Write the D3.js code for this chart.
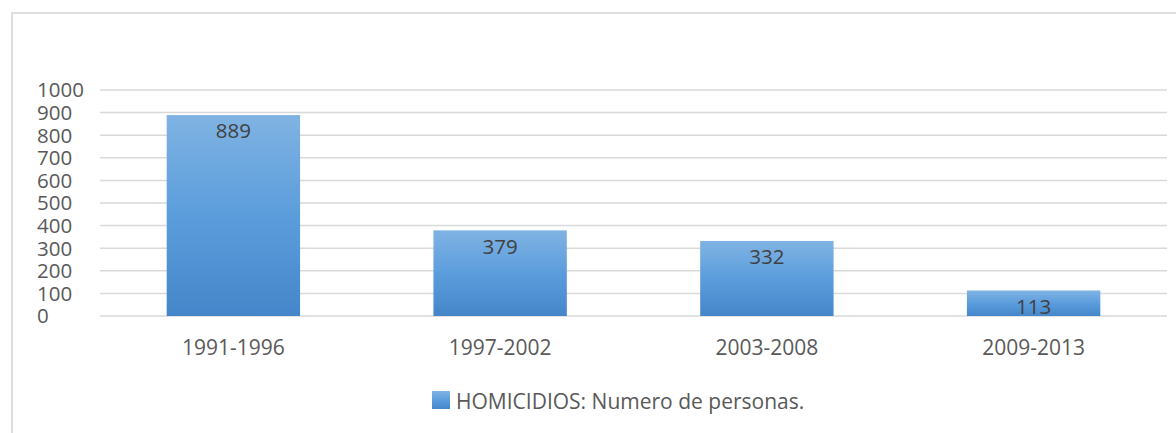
<!DOCTYPE html>
<html>
<head>
<meta charset="utf-8">
<script src="https://cdn.jsdelivr.net/npm/d3@7"></script>
<style>
  body { margin: 0; background: #fff; }
  text { font-family: "Open Sans", sans-serif; }
</style>
</head>
<body>
<div id="chart-area"></div>
<script>
// data
var categories = ["1991-1996", "1997-2002", "2003-2008", "2009-2013"];
var homicidios = [889, 379, 332, 113];
var yTicks = [0, 100, 200, 300, 400, 500, 600, 700, 800, 900, 1000];
var seriesName = "HOMICIDIOS: Numero de personas.";

var W = 1176, H = 433;

var svg = d3.select('#chart-area').append('svg')
    .attr('width', W)
    .attr('height', H);

// gradient for bars (light top -> darker bottom)
var grad = svg.append('defs').append('linearGradient')
    .attr('id', 'barGrad')
    .attr('x1', 0).attr('y1', 0).attr('x2', 0).attr('y2', 1);
grad.append('stop').attr('offset', '0%').attr('stop-color', '#80b3e3');
grad.append('stop').attr('offset', '50%').attr('stop-color', '#5b9ddc');
grad.append('stop').attr('offset', '100%').attr('stop-color', '#4486c9');

// chart frame (top + left edge visible)
svg.append('path')
    .attr('d', 'M12,' + H + 'V13H' + W)
    .attr('fill', 'none')
    .attr('stroke', '#dedede')
    .attr('stroke-width', 2);

var theX = d3.scaleBand()
    .domain(categories)
    .range([100, 1167])
    .paddingInner(0.5)
    .paddingOuter(0.25);

var theY = d3.scaleLinear()
    .domain([0, 1000])
    .range([316, 90]);

// gridlines
svg.append('g')
    .selectAll('line')
    .data(yTicks)
    .enter()
    .append('line')
        .attr('x1', 100)
        .attr('x2', 1167)
        .attr('y1', function(d){ return theY(d); })
        .attr('y2', function(d){ return theY(d); })
        .attr('stroke', '#d9d9d9')
        .attr('stroke-width', 1.5);

// y labels, left aligned like the original
svg.append('g')
    .selectAll('text')
    .data(yTicks)
    .enter()
    .append('text')
        .attr('x', 37)
        .attr('y', function(d){ return theY(d); })
        .attr('dy', '0.36em')
        .attr('font-size', 20.5)
        .attr('fill', '#595959')
        .text(function(d){ return d; });

// bars
svg.append('g')
    .selectAll('rect')
    .data(homicidios)
    .enter()
    .append('rect')
        .attr('x', function(d, i){ return theX(categories[i]); })
        .attr('y', function(d){ return theY(d); })
        .attr('width', theX.bandwidth())
        .attr('height', function(d){ return theY(0) - theY(d); })
        .attr('fill', 'url(#barGrad)');

// value labels inside top of bars
svg.append('g')
    .selectAll('text')
    .data(homicidios)
    .enter()
    .append('text')
        .attr('x', function(d, i){ return theX(categories[i]) + theX.bandwidth() / 2; })
        .attr('y', function(d){ return theY(d) + 16; })
        .attr('dy', '0.36em')
        .attr('text-anchor', 'middle')
        .attr('font-size', 20.5)
        .attr('fill', '#404040')
        .text(function(d){ return d; });

// x axis labels
var axisX = d3.axisBottom(theX).tickSize(0).tickPadding(0);
var gx = svg.append('g')
    .attr('transform', 'translate(0,' + theY(0) + ')')
    .call(axisX);
gx.select('.domain').remove();
gx.selectAll('text')
    .attr('y', 31)
    .attr('dy', '0.36em')
    .attr('font-size', 21)
    .attr('font-family', '"Open Sans", sans-serif')
    .attr('fill', '#595959');

// legend
var leg = svg.append('g').attr('transform', 'translate(432,391)');
leg.append('rect')
    .attr('width', 18)
    .attr('height', 18)
    .attr('fill', 'url(#barGrad)');
leg.append('text')
    .attr('x', 24)
    .attr('y', 10)
    .attr('dy', '0.36em')
    .attr('font-size', 21)
    .attr('fill', '#595959')
    .text(seriesName);
</script>
</body>
</html>
